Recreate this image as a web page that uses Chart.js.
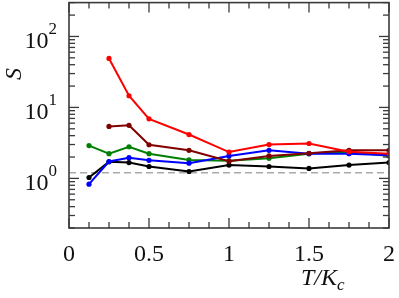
<!DOCTYPE html>
<html>
<head>
<meta charset="utf-8">
<script src="https://cdn.jsdelivr.net/npm/chart.js@4/dist/chart.umd.min.js"></script>
<style>
html,body{margin:0;padding:0;background:#fff;}
canvas{display:block;}
</style>
</head>
<body>
<canvas id="c" width="399" height="298"></canvas>
<script>
// ---- data ----
const tValues = [0.125, 0.25, 0.375, 0.5, 0.75, 1, 1.25, 1.5, 1.75, 2];
const redS    = [null, 49, 14.6, 6.9, 4.15, 2.35, 3.0, 3.1, 2.38, 2.23];
const maroonS = [null, 5.4, 5.6, 2.98, 2.49, 1.75, 2.07, 2.26, 2.49, 2.49];
const greenS  = [2.9, 2.23, 2.79, 2.23, 1.82, 1.77, 1.92, 2.23, 2.38, 2.07];
const blueS   = [0.83, 1.73, 1.96, 1.80, 1.64, 2.07, 2.49, 2.23, 2.23, 2.12];
const blackS  = [1.03, 1.71, 1.67, 1.47, 1.25, 1.54, 1.47, 1.38, 1.54, 1.67];
const refLineX = [0, 2];
const refLineS = [1.2, 1.2];
const xTicks = [0, 0.5, 1, 1.5, 2];
const xTickLabels = ['0', '0.5', '1', '1.5', '2'];
const xMinorTicks = [0.125,0.25,0.375,0.625,0.75,0.875,1.125,1.25,1.375,1.625,1.75,1.875];
const yTicks = [1, 10, 100];
const yTickExponents = ['0', '1', '2'];
const yMinorTicks = [0.2,0.3,0.4,0.5,0.6,0.7,0.8,0.9,2,3,4,5,6,7,8,9,20,30,40,50,60,70,80,90,200,300];

function pts(xs, ys){ return xs.map((x,i)=>({x:x, y:ys[i]})).filter(p=>p.y!==null); }
function series(ys, color){
  return {data: pts(tValues, ys), borderColor: color, backgroundColor: color,
          borderWidth: 2, pointRadius: 2.6, pointBorderWidth: 0, pointHoverRadius: 0, tension: 0};
}

const axisColor = '#3a3a3a';
const serif = '"Liberation Serif", "DejaVu Serif", serif';

const decor = {
  id: 'decor',
  afterDraw(chart){
    const ctx = chart.ctx, a = chart.chartArea;
    const xs = chart.scales.x, ys = chart.scales.y;
    ctx.save();
    ctx.strokeStyle = axisColor;
    ctx.lineWidth = 1.3;
    // ticks
    const tick = (x1,y1,x2,y2)=>{ctx.beginPath();ctx.moveTo(x1,y1);ctx.lineTo(x2,y2);ctx.stroke();};
    xTicks.forEach(v=>{const p=xs.getPixelForValue(v); tick(p,a.bottom,p,a.bottom-10); tick(p,a.top,p,a.top+10);});
    xMinorTicks.forEach(v=>{const p=xs.getPixelForValue(v); tick(p,a.bottom,p,a.bottom-6); tick(p,a.top,p,a.top+6);});
    yTicks.forEach(v=>{const p=ys.getPixelForValue(v); tick(a.left,p,a.left+10,p); tick(a.right,p,a.right-10,p);});
    yMinorTicks.forEach(v=>{const p=ys.getPixelForValue(v); tick(a.left,p,a.left+6,p); tick(a.right,p,a.right-6,p);});
    // frame
    ctx.lineWidth = 1.6;
    ctx.strokeRect(a.left, a.top, a.right-a.left, a.bottom-a.top);
    // x labels
    ctx.fillStyle = '#111';
    ctx.font = '24px ' + serif;
    ctx.textAlign = 'center';
    ctx.textBaseline = 'alphabetic';
    xTicks.forEach((v,i)=>{ctx.fillText(xTickLabels[i], xs.getPixelForValue(v), a.bottom+33);});
    // y labels 10^n
    yTicks.forEach((v,i)=>{
      const p = ys.getPixelForValue(v);
      ctx.font = '17px ' + serif;
      const ew = ctx.measureText(yTickExponents[i]).width;
      const right = a.left - 12;
      ctx.textAlign = 'right';
      ctx.fillText(yTickExponents[i], right, p - 2);
      ctx.font = '24px ' + serif;
      ctx.fillText('10', right - ew, p + 12);
    });
    // x title T/K_c
    ctx.textAlign = 'left';
    ctx.font = 'italic 24px ' + serif;
    ctx.fillText('T/K', 301, 285);
    const w = ctx.measureText('T/K').width;
    ctx.font = 'italic 17px ' + serif;
    ctx.fillText('c', 301 + w, 290);
    // y title S
    ctx.save();
    ctx.translate(21, 74);
    ctx.rotate(-Math.PI/2);
    ctx.font = 'italic 24px ' + serif;
    ctx.textAlign = 'center';
    ctx.fillText('S', 0, 0);
    ctx.restore();
    ctx.restore();
  }
};

new Chart(document.getElementById('c'), {
  type: 'line',
  data: {
    datasets: [
      series(redS, '#ff0000'),
      series(maroonS, '#800000'),
      series(blueS, '#0000ff'),
      series(greenS, '#008000'),
      series(blackS, '#000000'),
      {data: pts(refLineX, refLineS), borderColor: '#aaaaaa', borderWidth: 1.5, borderDash: [7,4], pointRadius: 0, pointHoverRadius: 0}
    ]
  },
  options: {
    responsive: false,
    animation: false,
    events: [],
    layout: {padding: {top: 1, right: 10, left: 0, bottom: 0}},
    plugins: {legend: {display: false}, tooltip: {enabled: false}},
    scales: {
      x: {type: 'linear', min: 0, max: 2,
          ticks: {display: false}, grid: {display: false}, border: {display: false},
          afterFit: s => { s.height = 70; }},
      y: {type: 'logarithmic', min: 0.2, max: 300,
          ticks: {display: false}, grid: {display: false}, border: {display: false},
          afterFit: s => { s.width = 69; }}
    }
  },
  plugins: [decor]
});
</script>
</body>
</html>
